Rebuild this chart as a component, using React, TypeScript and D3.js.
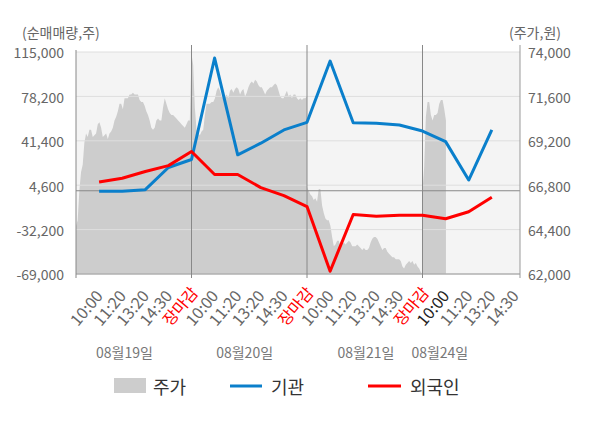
import React from 'react';
import * as d3 from 'd3';

// x axis: each trading day is 5 slots (open -> 10:00 -> 11:20 -> 13:20 -> 14:30 -> close)
const days = ['08월19일', '08월20일', '08월21일', '08월24일'];
const timeLabels = ['10:00', '11:20', '13:20', '14:30', '장마감'];
const leftTicks = [-69000, -32200, 4600, 41400, 78200, 115000];
const rightTicks = [62000, 64400, 66800, 69200, 71600, 74000];

// net buying (shares), one point per time slot, starting at 08/19 10:00
const institution = [
  -500, -400, 900, 19300, 25900,
  110000, 29800, 39400, 50400, 56700,
  107500, 56400, 55900, 54500, 49500,
  40700, 8900, 50400,
];
const foreign = [
  7300, 10400, 16000, 20800, 32500,
  13500, 13500, 2600, -4000, -13100,
  -66700, -19700, -21100, -20300, -20300,
  -23200, -17400, -5400,
];

// intraday price bars (won)
const price0819 = [
  64600, 64900, 66500, 67500, 67900, 69100, 69600, 69400, 69800, 69800,
  69400, 69500, 69600, 70100, 70200, 69900, 69400, 69500, 69600, 69300,
  69600, 69700, 69900, 70300, 70500, 70800, 71200, 71200, 70900, 71500,
  71500, 71500, 71700, 71700, 71800, 71700, 71700, 71700, 71400, 71300,
  71300, 71100, 70800, 70600, 70300, 69900, 69800, 69900, 70300, 70400,
  70300, 70300, 71000, 71500, 71200, 70900, 70700, 70600, 70600, 70500,
  70400, 70300, 70200, 70100, 70000, 69900, 70100, 70300, 70300,
];
const price0820 = [
  73900, 73300, 71000, 69800, 69600, 69500, 69700, 69800, 70600, 71200,
  71200, 71200, 71300, 71300, 71500, 71900, 72100, 71900, 71600, 71500,
  71600, 71700, 71500, 71900, 72000, 71800, 72000, 72100, 72000, 71700,
  71900, 72000, 71600, 71800, 72100, 72300, 72400, 72300, 72500, 72400,
  72200, 72100, 72100, 71900, 71700, 71900, 72000, 72100, 72100, 72200,
  72300, 72200, 71900, 71600, 71500, 71500, 71700, 71900, 71600, 71700,
  71500, 71700, 71700, 71500, 71400, 71500, 71400, 71500, 71500, 71600,
];
const price0821 = [
  66700, 66500, 66300, 66200, 66000, 66100, 65900, 66600, 66600, 65700,
  65300, 65000, 64900, 64900, 64600, 64000, 63500, 63600, 63800, 63800,
  63500, 63600, 63700, 63600, 63700, 63800, 63700, 63500, 63500, 63500,
  63600, 63500, 63400, 63300, 63400, 63300, 63300, 63400, 63700, 63900,
  64000, 64000, 63900, 63700, 63500, 63300, 63400, 63400, 63200, 63100,
  63000, 62900, 62900, 62800, 62800, 62800, 62700, 62400, 62300, 62500,
  62600, 62700, 62600, 62700, 62500, 62600, 62400, 62300, 62100, 62000,
];
const price0824 = [
  66500, 67800, 70500, 71300, 71300, 70600, 70300, 70600, 70600, 70700,
  71200, 71400, 71400, 70900, 70300,
];
const prices = [price0819, price0820, price0821, price0824];

const W = 600;
const H = 428;
const L = 76;
const R = 520;
const T = 52;
const B = 274;
const SLOTS = 5;
const BARS = 70;
const FONT = '"Noto Sans CJK KR", "Noto Sans", sans-serif';
const dateLabelSlots = [2.1, 7.3, 12.55, 15.75];

const fmt = (v: number) => v.toLocaleString('en-US');

export default function App() {
  const x = d3.scaleLinear().domain([0, 19.22]).range([L, R]);
  const yL = d3.scaleLinear().domain([-69000, 115000]).range([B, T]);
  const yR = d3.scaleLinear().domain([62000, 74000]).range([B, T]);

  const pricePts = prices.flatMap((arr, d) =>
    arr.map((p, i) => ({ t: d * SLOTS + (i * SLOTS) / (BARS - 1), p }))
  );
  const area = d3.area<{ t: number; p: number }>()
    .x(d => x(d.t))
    .y0(yR(62000))
    .y1(d => yR(d.p));

  const line = d3.line<number>()
    .x((_, i) => x(i + 1))
    .y(d => yL(d));

  const ticks: { slot: number; text: string; color: string }[] = [];
  days.forEach((_, d) => {
    timeLabels.forEach((t, k) => {
      const slot = d * SLOTS + k + 1;
      if (slot > 19) return;
      let color = '#666';
      if (t === '장마감') color = '#ff0000';
      if (d === days.length - 1 && k === 0) color = '#222';
      ticks.push({ slot, text: t, color });
    });
  });

  const seps = [0, 5, 10, 15];

  return (
    <svg width={W} height={H} style={{ position: 'absolute', left: 0, top: 0, background: '#fff' }} fontFamily={FONT}>
      <rect x={L} y={T} width={R - L} height={B - T} fill="#f4f4f4" />
      <path d={area(pricePts) || ''} fill="#cdcdcd" />
      {leftTicks.map(v => (
        <line key={v} x1={L} x2={R} y1={yL(v)} y2={yL(v)} stroke="#dedede" strokeWidth={1} />
      ))}
      <line x1={L} x2={R} y1={yL(0)} y2={yL(0)} stroke="#888" strokeWidth={1} />
      <line x1={L} x2={R} y1={B} y2={B} stroke="#999" strokeWidth={1} />
      {seps.map(s => (
        <line key={s} x1={x(s)} x2={x(s)} y1={s === 0 ? 50 : 45} y2={B + 4} stroke="#888" strokeWidth={1} />
      ))}
      <line x1={R} x2={R} y1={45} y2={B + 4} stroke="#999" strokeWidth={1} />

      <path d={line(institution) || ''} fill="none" stroke="#0a7fcb" strokeWidth={3} strokeLinejoin="round" />
      <path d={line(foreign) || ''} fill="none" stroke="#ff0000" strokeWidth={3} strokeLinejoin="round" />

      <text x={22} y={37.5} fontSize={14} fill="#666">(순매매량,주)</text>
      <text x={509} y={37.5} fontSize={14} fill="#666">(주가,원)</text>
      {leftTicks.map(v => (
        <text key={v} x={64} y={yL(v) + 1.5} dy="0.35em" textAnchor="end" fontSize={14} fill="#666">
          {fmt(v)}
        </text>
      ))}
      {rightTicks.map(v => (
        <text key={v} x={528} y={yR(v) + 1.5} dy="0.35em" fontSize={14} fill="#666">
          {fmt(v)}
        </text>
      ))}

      {ticks.map(t => (
        <text
          key={t.slot}
          transform={`translate(${x(t.slot) - 21},${B + 53}) rotate(-50)`}
          fontSize={16}
          fill={t.color}
        >
          {t.text}
        </text>
      ))}
      {days.map((d, i) => (
        <text key={d} x={x(dateLabelSlots[i])} y={358} textAnchor="middle" fontSize={14} fill="#777">
          {d}
        </text>
      ))}

      <rect x={114} y={378} width={32} height={15} fill="#cdcdcd" />
      <text x={153} y={394} fontSize={18} fill="#333">주가</text>
      <line x1={230} x2={262} y1={386} y2={386} stroke="#0a7fcb" strokeWidth={3} />
      <text x={271} y={394} fontSize={18} fill="#333">기관</text>
      <line x1={368} x2={401} y1={386} y2={386} stroke="#ff0000" strokeWidth={3} />
      <text x={410} y={394} fontSize={18} fill="#333">외국인</text>
    </svg>
  );
}
